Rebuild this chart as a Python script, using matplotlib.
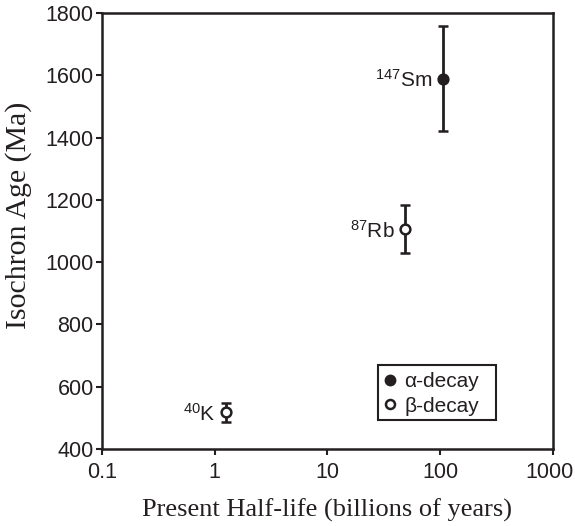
import numpy as np
import matplotlib
matplotlib.use('Agg')
import matplotlib.pyplot as plt
import matplotlib.transforms as mtransforms
from matplotlib.lines import Line2D
from matplotlib.patches import Rectangle

plt.rcParams['font.family'] = ['Liberation Sans', 'DejaVu Sans']
plt.rcParams['mathtext.fontset'] = 'custom'
plt.rcParams['mathtext.rm'] = 'Liberation Sans'
plt.rcParams['mathtext.it'] = 'Liberation Sans'

# data
isotopes = ['$^{40}$K', '$^{87}$Rb', '$^{147}$Sm']
half_life = [1.25, 48.8, 106.0]          # billions of years
iso_age = [518, 1106, 1590]              # Ma
age_err = [30, 77, 170]
alpha = [False, False, True]

col = '#231f20'

fig = plt.figure(figsize=(5.75, 5.26), dpi=100)
ax = fig.add_axes([0.1774, 0.1464, 0.7843, 0.8286])

for i in range(len(isotopes)):
    face = col if alpha[i] else 'white'
    ax.errorbar(half_life[i], iso_age[i], yerr=age_err[i], fmt='o', color=col,
                mfc=face, mec=col, ms=7, mew=1.8, elinewidth=2.0,
                capsize=3.6, capthick=2.0, zorder=3)
    ax.annotate(isotopes[i], (half_life[i], iso_age[i]), xytext=(-7.5, -1),
                textcoords='offset points', ha='right', va='center',
                fontsize=15, color=col)

ax.set_xscale('log')
ax.set_xlim(0.1, 1000)
ax.set_ylim(400, 1800)
ax.set_yticks(np.arange(400, 1801, 200))
ax.set_xticks([0.1, 1, 10, 100, 1000])
ax.set_xticklabels(['0.1', '1', '10', '100', '1000'])
ax.minorticks_off()
ax.tick_params(direction='out', length=4.5, width=1.5, labelsize=15.5, color=col,
               labelcolor=col)
ax.tick_params(axis='x', pad=5)
ax.tick_params(axis='y', pad=1.5)
for s in ax.spines.values():
    s.set_linewidth(1.8)
    s.set_color(col)

# pull the last x label in a little so it stays inside the figure
last = ax.get_xticklabels()[-1]
last.set_transform(last.get_transform() +
                   mtransforms.ScaledTranslation(-3 / 100, 0, fig.dpi_scale_trans))

ax.set_xlabel('Present Half-life (billions of years)', family='Liberation Serif',
              fontsize=19, color=col, labelpad=11)
ax.set_ylabel('Isochron Age (Ma)', family='Liberation Serif', fontsize=21.5,
              color=col, labelpad=4)
ax.yaxis.set_label_coords(-0.155, 0.537)

# legend box
ax.add_patch(Rectangle((0.612, 0.0665), 0.262, 0.127, transform=ax.transAxes,
                       fill=True, fc='white', ec=col, lw=1.5, zorder=4))
handles = [Line2D([], [], ls='', marker='o', ms=7, mfc=col, mec=col, mew=1.5),
           Line2D([], [], ls='', marker='o', ms=6.5, mfc='white', mec=col, mew=1.8)]
leg = ax.legend(handles, ['α-decay', 'β-decay'], loc='upper left',
                bbox_to_anchor=(0.6255, 0.1765), frameon=False,
                fontsize=15, handlelength=0.6, handletextpad=0.37,
                borderpad=0, labelspacing=0.27, borderaxespad=0)
leg.set_zorder(5)
for t in leg.get_texts():
    t.set_color(col)

fig.savefig('out.png', dpi=100)
